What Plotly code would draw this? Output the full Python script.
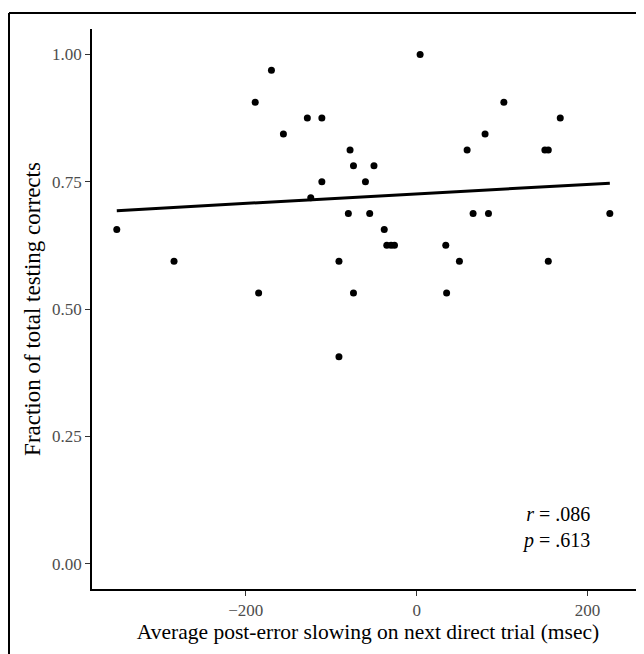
import numpy as np
import plotly.graph_objects as go

# Average post-error slowing (msec) and fraction of testing corrects
slowing = [-170, -189, -128, -111, -156, -78, -74, -111, -60, -124, -80, -55,
           -351, -284, -91, -185, -74, -91,
           -50, 4, 102, 168, 80, 59, 150, 154, 66, 84, 226, -38,
           -35, -30, -26, 34, 50, 154, 35]
fraction = [0.96875, 0.90625, 0.875, 0.875, 0.84375, 0.8125, 0.78125, 0.75, 0.75, 0.71875, 0.6875, 0.6875,
            0.65625, 0.59375, 0.59375, 0.53125, 0.53125, 0.40625,
            0.78125, 1.0, 0.90625, 0.875, 0.84375, 0.8125, 0.8125, 0.8125, 0.6875, 0.6875, 0.6875, 0.65625,
            0.625, 0.625, 0.625, 0.625, 0.59375, 0.59375, 0.53125]

x_ticks = [-200, 0, 200]
x_tick_labels = ["\u2212200", "0", "200"]
y_ticks = [0.0, 0.25, 0.5, 0.75, 1.0]
y_tick_labels = ["0.00", "0.25", "0.50", "0.75", "1.00"]
stats_text = "<i>r</i> = .086<br><i>p</i> = .613"

x = np.array(slowing, dtype=float)
y = np.array(fraction, dtype=float)
slope, intercept = np.polyfit(x, y, 1)
xl = np.array([x.min(), x.max()])
yl = slope * xl + intercept

FONT = "Liberation Serif"

fig = go.Figure()
fig.add_trace(go.Scatter(x=xl, y=yl, mode="lines",
                         line=dict(color="black", width=3), hoverinfo="skip"))
fig.add_trace(go.Scatter(x=x, y=y, mode="markers",
                         marker=dict(color="black", size=7)))

# page body has an 8px margin, so the figure is sized to fill the rest
W, H = 636, 646
ml, mr, mt, mb = 84, 0, 21, 65
pw, ph = W - ml - mr, H - mt - mb

fig.update_layout(
    width=W, height=H,
    margin=dict(l=ml, r=mr, t=mt, b=mb, pad=0),
    paper_bgcolor="white", plot_bgcolor="white",
    showlegend=False,
    font=dict(family=FONT, color="black"),
    xaxis=dict(range=[-380, 266], tickvals=x_ticks, ticktext=x_tick_labels,
               showgrid=False, zeroline=False, showline=True, linecolor="black", linewidth=1.5,
               ticks="outside", ticklen=5, tickcolor="#333333", tickwidth=1,
               tickfont=dict(family=FONT, size=17, color="#4D4D4D"),
               title=dict(text="Average post-error slowing on next direct trial (msec)",
                          font=dict(family=FONT, size=21.5, color="black"), standoff=4)),
    yaxis=dict(range=[-0.05, 1.05], tickvals=y_ticks, ticktext=y_tick_labels,
               showgrid=False, zeroline=False, showline=True, linecolor="black", linewidth=1.5,
               ticks="outside", ticklen=5, tickcolor="#333333", tickwidth=1,
               tickfont=dict(family=FONT, size=17, color="#4D4D4D"),
               title=dict(text="Fraction of total testing corrects",
                          font=dict(family=FONT, size=23, color="black"), standoff=5)),
)

fig.add_annotation(xref="paper", yref="y", x=(584 - ml) / pw, y=0.071,
                   text=stats_text, showarrow=False, xanchor="right", yanchor="middle",
                   align="right", font=dict(family=FONT, size=20, color="black"))

# outer frame (left and top edges visible)
bx = (1 - ml) / pw
by = 1 + (mt - 5) / ph
fig.add_shape(type="line", xref="paper", yref="paper", x0=bx, x1=bx, y0=-0.2, y1=by,
              line=dict(color="black", width=2))
fig.add_shape(type="line", xref="paper", yref="paper", x0=bx, x1=1.1, y0=by, y1=by,
              line=dict(color="black", width=2))

fig.write_html("out.html")
